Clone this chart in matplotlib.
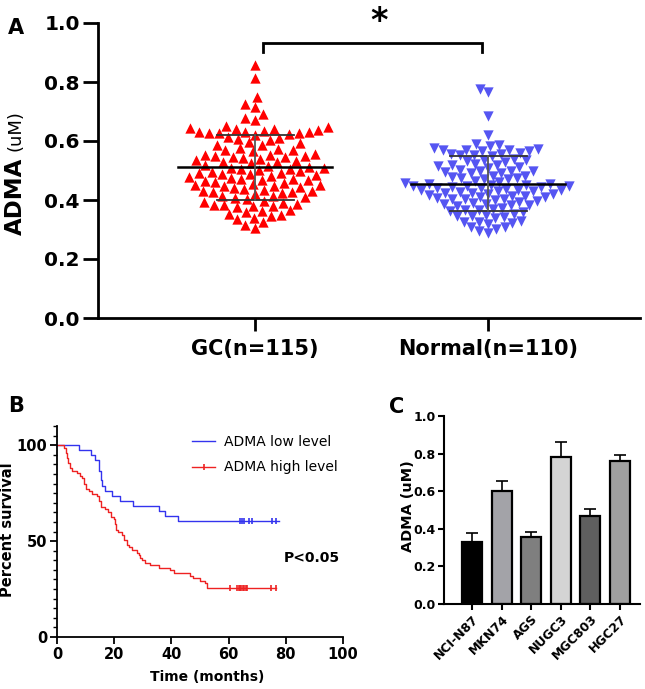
import numpy as np
import matplotlib
matplotlib.use("Agg")
import matplotlib.pyplot as plt
from matplotlib.lines import Line2D

# ---------------- data ----------------
gc_values = [0.858, 0.815, 0.748, 0.725, 0.715, 0.692, 0.678, 0.672,
             0.652, 0.648, 0.645, 0.640, 0.638, 0.635, 0.642,
             0.630, 0.628, 0.626, 0.632, 0.624, 0.631, 0.627, 0.622,
             0.612, 0.608, 0.610, 0.605, 0.592, 0.588, 0.585, 0.595,
             0.572, 0.568, 0.565, 0.570, 0.575,
             0.552, 0.548, 0.545, 0.550, 0.555, 0.542, 0.547, 0.553, 0.540,
             0.532, 0.528, 0.525, 0.535, 0.530,
             0.512, 0.508, 0.505, 0.515, 0.510, 0.502, 0.518, 0.506,
             0.492, 0.488, 0.485, 0.495, 0.490, 0.482, 0.498, 0.487,
             0.472, 0.468, 0.465, 0.475, 0.470, 0.462, 0.478, 0.467,
             0.452, 0.448, 0.445, 0.455, 0.450, 0.442, 0.458, 0.447,
             0.432, 0.428, 0.425, 0.435, 0.430, 0.422, 0.438, 0.427,
             0.412, 0.408, 0.415, 0.410, 0.405, 0.392, 0.388, 0.395, 0.390,
             0.382, 0.378, 0.380, 0.375, 0.383, 0.362, 0.358, 0.365,
             0.352, 0.348, 0.345, 0.340, 0.335, 0.325, 0.315, 0.305]
normal_values = [0.775, 0.765, 0.685, 0.622, 0.587, 0.583, 0.590,
                 0.573, 0.570, 0.567, 0.575, 0.571, 0.568, 0.565,
                 0.557, 0.553, 0.555, 0.560, 0.550, 0.551,
                 0.537, 0.533, 0.540, 0.535, 0.530,
                 0.517, 0.513, 0.520, 0.515, 0.510, 0.523,
                 0.497, 0.493, 0.500, 0.495, 0.490, 0.503, 0.498,
                 0.477, 0.473, 0.480, 0.475, 0.470, 0.483, 0.472,
                 0.457, 0.453, 0.460, 0.455, 0.450, 0.463, 0.452,
                 0.449, 0.447, 0.445, 0.443, 0.441, 0.439, 0.437, 0.435, 0.433, 0.431, 0.446,
                 0.429, 0.427, 0.425, 0.423, 0.421, 0.419, 0.417, 0.415, 0.413, 0.411, 0.434,
                 0.407, 0.403, 0.410, 0.405, 0.400, 0.396, 0.402,
                 0.387, 0.383, 0.390, 0.385, 0.380, 0.393, 0.382,
                 0.367, 0.363, 0.370, 0.365, 0.360, 0.373,
                 0.347, 0.343, 0.350, 0.345, 0.340, 0.353,
                 0.327, 0.323, 0.330, 0.325, 0.320,
                 0.307, 0.303, 0.310, 0.295, 0.288]
group_labels = ["GC(n=115)", "Normal(n=110)"]

km_low_time = [0, 7.8, 11.9, 13.4, 14.8, 15.3, 15.7, 16.9, 19.2, 21.9, 26.7, 35.5, 37.6, 42.4, 77.5]
km_low_surv = [100, 97.4, 94.7, 92.1, 86.8, 81.6, 78.9, 76.3, 73.7, 71.1, 68.4, 65.8, 63.2, 60.5, 60.5]
km_low_censor = [64.0, 64.8, 65.5, 67.0, 68.2, 75.0, 76.5]

km_high_time = [0, 2.5, 3.0, 3.5, 4.0, 4.6, 5.2, 7.0, 8.1, 8.7, 9.3, 10.2, 11.2, 12.2, 14.0,
                14.6, 15.3, 16.9, 18.0, 19.0, 19.8, 20.3, 20.8, 21.2, 22.7, 23.5, 24.4, 25.0,
                26.2, 27.9, 28.5, 29.0, 29.8, 30.6, 32.6, 35.5, 39.5, 41.0, 46.5, 47.7, 50.0,
                51.7, 52.6, 76.7]
km_high_surv = [100, 98.7, 96.0, 93.3, 90.7, 88.0, 86.7, 85.3, 84.0, 82.7, 80.0, 77.3, 76.0, 74.7, 73.3,
                70.7, 68.0, 66.7, 65.3, 62.7, 61.3, 58.7, 56.0, 54.7, 53.3, 50.7, 48.0, 46.7,
                45.3, 44.0, 42.7, 41.3, 40.0, 38.7, 37.3, 36.0, 34.7, 33.3, 32.0, 30.7, 29.3,
                28.0, 25.3, 25.3]
km_high_censor = [60.5, 62.8, 63.5, 64.0, 64.5, 65.0, 65.5, 66.0, 66.5, 74.8, 76.5]
km_labels = ["ADMA low level", "ADMA high level"]

cell_lines = ["NCI-N87", "MKN74", "AGS", "NUGC3", "MGC803", "HGC27"]
cell_means = [0.332, 0.601, 0.355, 0.780, 0.470, 0.762]
cell_err = [0.044, 0.053, 0.030, 0.083, 0.034, 0.031]
cell_colors = ["#000000", "#a3a3a8", "#7f7f7f", "#d4d4d4", "#5f5f5f", "#a0a0a0"]

RED = "#ff0000"
BLUE = "#5555f2"

W, H = 645, 689
fig = plt.figure(figsize=(W / 100, H / 100), dpi=100)
plt.rcParams['font.family'] = ['DejaVu Sans']

def fx(px):
    return px / W

def fy(py):
    return 1 - py / H

# ---------------- panel A ----------------
axA = fig.add_axes([fx(98), fy(318), fx(640) - fx(98), fy(23) - fy(318)])
axA.set_ylim(0, 1.0)
axA.set_xlim(0.326, 2.652)
for s in ["top", "right"]:
    axA.spines[s].set_visible(False)
for s in ["left", "bottom"]:
    axA.spines[s].set_linewidth(2.0)
axA.set_yticks([0.0, 0.2, 0.4, 0.6, 0.8, 1.0])
axA.set_yticklabels(["0.0", "0.2", "0.4", "0.6", "0.8", "1.0"], fontsize=14.5, fontweight="bold")
axA.set_xticks([1, 2])
axA.set_xticklabels(group_labels, fontsize=15, fontweight="bold")
axA.tick_params(axis="y", length=11, width=2, pad=2)
axA.tick_params(axis="x", length=9, width=2, pad=6)

fig.canvas.draw()
axh_px = axA.get_window_extent().height
axw_px = axA.get_window_extent().width
px_per_x = axw_px / (2.652 - 0.326)

def swarm_offsets(vals, d):
    ypx = np.asarray(vals) / 1.0 * axh_px
    order = np.argsort(ypx)
    placed_x, placed_y = [], []
    offs = np.zeros(len(vals))
    for i in order:
        y = ypx[i]
        cands = [0.0]
        for xx, yy in zip(placed_x, placed_y):
            dy = y - yy
            if abs(dy) < d:
                dx = np.sqrt(d * d - dy * dy)
                cands += [xx + dx, xx - dx]
        cands = sorted(cands, key=lambda c: (abs(c), c))
        for c in cands:
            ok = True
            for xx, yy in zip(placed_x, placed_y):
                if (c - xx) ** 2 + (y - yy) ** 2 < d * d - 1e-6:
                    ok = False
                    break
            if ok:
                break
        placed_x.append(c)
        placed_y.append(y)
        offs[i] = c
    return offs / px_per_x

for xc, vals, col, mk, dd in [(1, gc_values, RED, "^", 10.0), (2, normal_values, BLUE, "v", 9.0)]:
    off = swarm_offsets(vals, dd)
    axA.scatter(xc + off, vals, marker=mk, s=55, color=col, linewidths=0, zorder=2)
    m = np.mean(vals)
    sd = np.std(vals, ddof=1)
    axA.plot([xc - 0.33, xc + 0.33], [m, m], color="black", lw=1.8, zorder=3)
    axA.plot([xc - 0.165, xc + 0.165], [m + sd, m + sd], color="#333333", lw=1.3, zorder=3)
    axA.plot([xc - 0.165, xc + 0.165], [m - sd, m - sd], color="#333333", lw=1.3, zorder=3)
    axA.plot([xc, xc], [m - sd, m + sd], color="#555555", lw=1.3, zorder=3)

axA.plot([1.034, 1.034, 1.974, 1.974], [0.902, 0.932, 0.932, 0.902], color="black",
         lw=2.0, clip_on=False, solid_joinstyle="miter")
fig.text(fx(379), fy(31), "*", fontsize=24, fontweight="bold", ha="center", va="baseline")
fig.text(fx(16), fy(28), "A", fontsize=15, fontweight="bold", ha="center", va="center")
fig.text(fx(15), fy(196), "ADMA", fontsize=16.5, fontweight="bold", rotation=90,
         ha="center", va="center")
fig.text(fx(15), fy(131), "(uM)", fontsize=13, rotation=90, ha="center", va="center")

# ---------------- panel B ----------------
axB = fig.add_axes([fx(57), fy(637), fx(343) - fx(57), fy(426) - fy(637)])
axB.set_xlim(0, 100)
axB.set_ylim(0, 110)
for s in ["top", "right"]:
    axB.spines[s].set_visible(False)
for s in ["left", "bottom"]:
    axB.spines[s].set_linewidth(1.3)
axB.set_yticks([0, 50, 100])
axB.set_yticks(np.arange(5, 111, 5), minor=True)
axB.set_xticks([0, 20, 40, 60, 80, 100])
axB.tick_params(axis="both", which="major", length=5, width=1.3, labelsize=10.5, pad=2)
axB.tick_params(axis="y", which="minor", length=3, width=1.0)
for lab in axB.get_xticklabels() + axB.get_yticklabels():
    lab.set_fontweight("bold")

axB.step(km_low_time, km_low_surv, where="post", color="#3333ee", lw=1.0, clip_on=False)
axB.step(km_high_time, km_high_surv, where="post", color="#ee2222", lw=1.0, clip_on=False)
axB.plot(km_low_censor, [km_low_surv[-1]] * len(km_low_censor), ls="none", marker="|",
         ms=4, mew=1.2, color="#3333ee")
axB.plot(km_high_censor, [km_high_surv[-1]] * len(km_high_censor), ls="none", marker="|",
         ms=4, mew=1.2, color="#ee2222")
handles = [Line2D([], [], color="#3333ee", lw=1.0),
           Line2D([], [], color="#ee2222", lw=1.0, marker="|", ms=4, mew=1.2)]
axB.legend(handles, km_labels, loc="upper left", bbox_to_anchor=(0.43, 1.015), frameon=False,
           fontsize=10, handlelength=1.6, handletextpad=0.7, labelspacing=0.8)
axB.text(89, 41.3, "P<0.05", fontsize=10, fontweight="bold", ha="center", va="center")
fig.text(fx(8), fy(530), "Percent survival", fontsize=10.5, fontweight="bold", rotation=90,
         ha="center", va="center")
fig.text(fx(207), fy(677), "Time (months)", fontsize=10, fontweight="bold", ha="center", va="center")
fig.text(fx(16), fy(406), "B", fontsize=15, fontweight="bold", ha="center", va="center")

# ---------------- panel C ----------------
axC = fig.add_axes([fx(444), fy(604), fx(640) - fx(444), fy(416) - fy(604)])
xpos = np.arange(len(cell_lines))
axC.bar(xpos, cell_means, width=0.68, color=cell_colors, edgecolor="black", linewidth=1.6, zorder=2)
axC.errorbar(xpos, cell_means, yerr=[np.zeros(len(cell_err)), cell_err], fmt="none",
             ecolor="black", elinewidth=1.2, capsize=4, capthick=1.2, zorder=1)
axC.set_xlim(-0.95, 5.68)
axC.set_ylim(0, 1.0)
for s in ["top", "right"]:
    axC.spines[s].set_visible(False)
for s in ["left", "bottom"]:
    axC.spines[s].set_linewidth(1.5)
axC.set_yticks([0.0, 0.2, 0.4, 0.6, 0.8, 1.0])
axC.set_yticklabels(["0.0", "0.2", "0.4", "0.6", "0.8", "1.0"])
axC.set_xticks(xpos)
axC.set_xticklabels(cell_lines, rotation=45, ha="right", rotation_mode="anchor")
axC.tick_params(axis="both", length=4, width=1.5, labelsize=9, pad=2)
for lab in axC.get_xticklabels() + axC.get_yticklabels():
    lab.set_fontweight("bold")
fig.text(fx(408), fy(506), "ADMA (uM)", fontsize=10.4, fontweight="bold", rotation=90,
         ha="center", va="center")
fig.text(fx(397), fy(407), "C", fontsize=15, fontweight="bold", ha="center", va="center")

fig.savefig("out.png", dpi=100)
